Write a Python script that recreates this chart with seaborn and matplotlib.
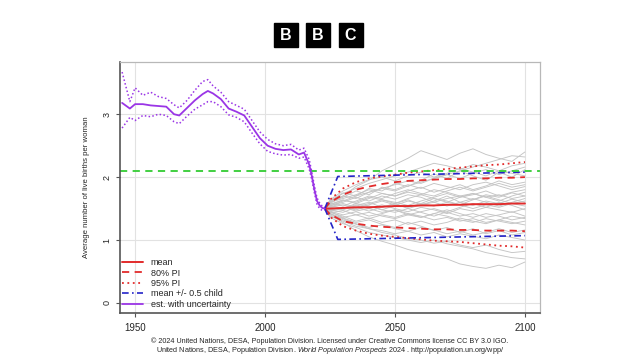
import numpy as np
import pandas as pd
import matplotlib
matplotlib.use("Agg")
import matplotlib.pyplot as plt
from matplotlib.lines import Line2D
from matplotlib.patches import Rectangle
import seaborn as sns

## HISTORIC ESTIMATES (median + uncertainty)
hist_years = [1945, 1948, 1950, 1953, 1956, 1959, 1962, 1965, 1967, 1970, 1973, 1976,
              1978, 1980, 1983, 1986, 1989, 1992, 1995, 1998, 2001, 2004, 2007, 2010,
              2013, 2015, 2017, 2018, 2019, 2020, 2021, 2022, 2023]
hist_mid = [3.18, 3.09, 3.16, 3.16, 3.14, 3.13, 3.12, 3.00, 2.98, 3.10, 3.22, 3.32,
            3.37, 3.33, 3.24, 3.09, 3.04, 2.98, 2.80, 2.62, 2.50, 2.45, 2.43, 2.44,
            2.36, 2.39, 2.20, 2.02, 1.80, 1.62, 1.55, 1.51, 1.50]
hist_hi = [3.67, 3.20, 3.42, 3.30, 3.35, 3.28, 3.25, 3.15, 3.10, 3.22, 3.38, 3.52,
           3.55, 3.45, 3.35, 3.20, 3.14, 3.08, 2.90, 2.72, 2.60, 2.53, 2.50, 2.52,
           2.43, 2.46, 2.28, 2.08, 1.86, 1.67, 1.59, 1.54, 1.52]
hist_lo = [2.78, 2.95, 2.90, 2.98, 2.96, 3.00, 2.98, 2.88, 2.85, 2.97, 3.08, 3.15,
           3.20, 3.20, 3.12, 2.99, 2.95, 2.88, 2.70, 2.53, 2.41, 2.37, 2.35, 2.36,
           2.30, 2.32, 2.13, 1.96, 1.75, 1.57, 1.50, 1.47, 1.48]

## PROJECTIONS
proj_years = [2023, 2025, 2030, 2035, 2040, 2045, 2050, 2055, 2060, 2065, 2070, 2075,
              2080, 2085, 2090, 2095, 2100]
proj_mean = [1.50, 1.50, 1.51, 1.52, 1.52, 1.53, 1.54, 1.54, 1.55, 1.55, 1.56, 1.56,
             1.57, 1.57, 1.57, 1.58, 1.58]
pi80_hi = [1.50, 1.60, 1.72, 1.80, 1.85, 1.89, 1.92, 1.94, 1.95, 1.96, 1.97, 1.97,
           1.98, 1.98, 1.99, 1.99, 2.00]
pi80_lo = [1.50, 1.41, 1.30, 1.26, 1.23, 1.21, 1.20, 1.19, 1.18, 1.17, 1.17, 1.16,
           1.16, 1.15, 1.15, 1.15, 1.14]
pi95_hi = [1.50, 1.64, 1.82, 1.92, 1.98, 2.01, 2.04, 2.07, 2.09, 2.11, 2.13, 2.15,
           2.17, 2.19, 2.20, 2.22, 2.24]
pi95_lo = [1.50, 1.37, 1.22, 1.15, 1.10, 1.07, 1.05, 1.03, 1.01, 0.99, 0.98, 0.97,
           0.95, 0.93, 0.91, 0.90, 0.88]
half_years = [2023, 2028, 2100]
half_hi = [1.50, 2.01, 2.08]
half_lo = [1.50, 1.01, 1.07]
replacement = 2.1

## SAMPLE TRAJECTORIES
trajectories = [
    [1.50, 1.62, 1.75, 1.70, 1.82, 1.78, 1.90, 1.85, 1.95, 2.05, 1.98, 2.10, 2.02, 1.95, 2.08, 2.00, 2.12],
    [1.50, 1.42, 1.35, 1.28, 1.32, 1.25, 1.20, 1.28, 1.22, 1.15, 1.20, 1.12, 1.18, 1.10, 1.15, 1.08, 1.12],
    [1.50, 1.55, 1.60, 1.68, 1.62, 1.70, 1.65, 1.72, 1.68, 1.60, 1.66, 1.70, 1.64, 1.72, 1.68, 1.75, 1.70],
    [1.50, 1.46, 1.40, 1.45, 1.38, 1.42, 1.48, 1.40, 1.45, 1.50, 1.44, 1.38, 1.42, 1.36, 1.40, 1.45, 1.38],
    [1.50, 1.58, 1.70, 1.85, 1.95, 2.10, 2.20, 2.30, 2.42, 2.35, 2.28, 2.38, 2.45, 2.36, 2.30, 2.25, 2.40],
    [1.50, 1.40, 1.28, 1.15, 1.05, 0.98, 0.92, 0.85, 0.80, 0.75, 0.70, 0.62, 0.58, 0.55, 0.60, 0.56, 0.65],
    [1.50, 1.52, 1.48, 1.55, 1.60, 1.52, 1.58, 1.64, 1.56, 1.62, 1.70, 1.60, 1.55, 1.62, 1.58, 1.65, 1.60],
    [1.50, 1.60, 1.68, 1.78, 1.72, 1.84, 1.80, 1.88, 1.82, 1.90, 1.85, 1.80, 1.88, 1.92, 1.86, 1.80, 1.85],
    [1.50, 1.44, 1.38, 1.30, 1.35, 1.28, 1.32, 1.25, 1.30, 1.24, 1.28, 1.35, 1.30, 1.26, 1.32, 1.28, 1.24],
    [1.50, 1.56, 1.64, 1.58, 1.66, 1.74, 1.70, 1.78, 1.84, 1.76, 1.82, 1.88, 1.80, 1.86, 1.94, 1.88, 1.92],
    [1.50, 1.47, 1.52, 1.46, 1.50, 1.56, 1.50, 1.45, 1.52, 1.48, 1.42, 1.50, 1.46, 1.52, 1.48, 1.44, 1.50],
    [1.50, 1.38, 1.30, 1.22, 1.18, 1.12, 1.08, 1.02, 1.00, 0.95, 0.98, 0.92, 0.88, 0.92, 0.85, 0.80, 0.82],
    [1.50, 1.62, 1.74, 1.82, 1.90, 1.96, 2.02, 2.08, 2.15, 2.22, 2.18, 2.12, 2.20, 2.16, 2.10, 2.18, 2.22],
    [1.50, 1.53, 1.58, 1.52, 1.46, 1.52, 1.58, 1.50, 1.44, 1.38, 1.45, 1.52, 1.58, 1.52, 1.60, 1.55, 1.48],
    [1.50, 1.48, 1.44, 1.52, 1.58, 1.64, 1.60, 1.55, 1.62, 1.68, 1.74, 1.68, 1.72, 1.78, 1.70, 1.76, 1.80],
    [1.50, 1.45, 1.36, 1.40, 1.34, 1.40, 1.36, 1.42, 1.38, 1.32, 1.36, 1.30, 1.34, 1.28, 1.32, 1.38, 1.34],
    [1.50, 1.60, 1.66, 1.72, 1.80, 1.74, 1.70, 1.76, 1.72, 1.80, 1.76, 1.70, 1.74, 1.68, 1.72, 1.66, 1.70],
    [1.50, 1.42, 1.32, 1.25, 1.18, 1.15, 1.10, 1.14, 1.08, 1.12, 1.05, 1.10, 1.06, 1.02, 1.08, 1.04, 1.00],
    [1.50, 1.55, 1.50, 1.58, 1.54, 1.48, 1.55, 1.62, 1.58, 1.66, 1.62, 1.56, 1.64, 1.70, 1.64, 1.58, 1.62],
    [1.50, 1.64, 1.78, 1.88, 1.96, 2.00, 1.94, 2.02, 2.08, 2.00, 2.06, 2.14, 2.08, 2.02, 2.10, 2.06, 2.02],
    [1.50, 1.57, 1.63, 1.60, 1.68, 1.64, 1.58, 1.66, 1.72, 1.66, 1.60, 1.68, 1.74, 1.68, 1.62, 1.70, 1.76],
    [1.50, 1.43, 1.47, 1.40, 1.44, 1.38, 1.34, 1.40, 1.36, 1.42, 1.48, 1.42, 1.36, 1.42, 1.38, 1.32, 1.36],
    [1.50, 1.59, 1.54, 1.62, 1.70, 1.66, 1.74, 1.80, 1.74, 1.70, 1.78, 1.84, 1.78, 1.84, 1.90, 1.84, 1.88],
    [1.50, 1.46, 1.50, 1.56, 1.50, 1.44, 1.48, 1.42, 1.36, 1.42, 1.38, 1.32, 1.28, 1.34, 1.30, 1.26, 1.30],
    [1.50, 1.54, 1.62, 1.70, 1.76, 1.82, 1.88, 1.94, 1.90, 1.98, 2.04, 1.98, 2.06, 2.12, 2.04, 2.10, 2.16],
    [1.50, 1.41, 1.34, 1.26, 1.20, 1.24, 1.18, 1.14, 1.20, 1.16, 1.10, 1.14, 1.08, 1.12, 1.18, 1.12, 1.16],
    [1.50, 1.52, 1.56, 1.50, 1.56, 1.62, 1.56, 1.52, 1.58, 1.54, 1.60, 1.56, 1.50, 1.56, 1.52, 1.58, 1.54],
    [1.50, 1.48, 1.52, 1.48, 1.54, 1.48, 1.44, 1.50, 1.56, 1.60, 1.54, 1.60, 1.66, 1.60, 1.54, 1.60, 1.66],
    [1.50, 1.36, 1.26, 1.20, 1.12, 1.08, 1.04, 1.00, 0.96, 1.00, 0.94, 0.90, 0.86, 0.80, 0.76, 0.72, 0.70],
    [1.50, 1.61, 1.70, 1.66, 1.76, 1.82, 1.78, 1.86, 1.92, 1.98, 2.04, 2.10, 2.16, 2.22, 2.28, 2.34, 2.32],
]

RED = "#e22b2b"
BLUE = "#2424c8"
PURPLE = "#9a35e6"
GREEN = "#33cc33"

sns.set_style("white")
plt.rcParams["font.family"] = ["Liberation Sans", "DejaVu Sans"]
plt.rcParams["mathtext.fontset"] = "custom"
plt.rcParams["mathtext.rm"] = "Liberation Sans"
plt.rcParams["mathtext.it"] = "Liberation Sans:italic"

fig = plt.figure(figsize=(6.4, 3.6), dpi=100)
ax = fig.add_axes([120 / 640, 1 - 313 / 360, 420 / 640, 251 / 360])

# grey spaghetti
traj_df = pd.DataFrame(
    [(i, yr, v) for i, tr in enumerate(trajectories) for yr, v in zip(proj_years, tr)],
    columns=["traj", "year", "tfr"],
)
sns.lineplot(data=traj_df, x="year", y="tfr", units="traj", estimator=None,
             color="#c4c4c4", lw=0.65, ax=ax, legend=False)

# prediction intervals
for hi, lo, ls in [(pi95_hi, pi95_lo, (0, (1, 2))), (pi80_hi, pi80_lo, (0, (4, 3)))]:
    sns.lineplot(x=proj_years, y=hi, color=RED, lw=1.3, linestyle=ls, ax=ax)
    sns.lineplot(x=proj_years, y=lo, color=RED, lw=1.3, linestyle=ls, ax=ax)
sns.lineplot(x=proj_years, y=proj_mean, color=RED, lw=1.4, ax=ax)

# mean +/- 0.5 child
for arr in (half_hi, half_lo):
    sns.lineplot(x=half_years, y=arr, color=BLUE, lw=1.2,
                 linestyle=(0, (4, 2, 1, 2)), ax=ax)

ax.axhline(replacement, color=GREEN, lw=1.3, linestyle=(0, (4, 3)))

# historic estimates
sns.lineplot(x=hist_years, y=hist_hi, color=PURPLE, lw=1.1, linestyle=(0, (1, 1.5)), ax=ax)
sns.lineplot(x=hist_years, y=hist_lo, color=PURPLE, lw=1.1, linestyle=(0, (1, 1.5)), ax=ax)
sns.lineplot(x=hist_years, y=hist_mid, color=PURPLE, lw=1.3, ax=ax)

ax.set_xlim(1944.2, 2105.8)
ax.set_ylim(-0.16, 3.83)
ax.set_xticks([1950, 2000, 2050, 2100])
ax.set_yticks([0, 1, 2, 3])
ax.grid(True, color="#e2e2e2", lw=0.8)
ax.set_axisbelow(True)
ax.set_xlabel("")
ax.set_ylabel("Average number of live births per woman", fontsize=5.6, labelpad=9)
ax.tick_params(axis="x", labelsize=7, length=3, direction="out", bottom=True, color="#555555", pad=4)
ax.tick_params(axis="y", labelsize=6.5, length=3, direction="out", left=True, color="#555555", pad=3)
for lab in ax.get_yticklabels():
    lab.set_rotation(90)
    lab.set_va("center")
for side in ("left", "bottom"):
    ax.spines[side].set_color("#555555")
    ax.spines[side].set_linewidth(1.2)
for side in ("top", "right"):
    ax.spines[side].set_color("#b8b8b8")
    ax.spines[side].set_linewidth(0.9)

handles = [
    Line2D([], [], color=RED, lw=1.4),
    Line2D([], [], color=RED, lw=1.3, linestyle=(0, (4, 3))),
    Line2D([], [], color=RED, lw=1.3, linestyle=(0, (1, 2))),
    Line2D([], [], color=BLUE, lw=1.2, linestyle=(0, (4, 2, 1, 2))),
    Line2D([], [], color=PURPLE, lw=1.3),
]
labels = ["mean", "80% PI", "95% PI", "mean +/- 0.5 child", "est. with uncertainty"]
ax.legend(handles, labels, loc="lower left", bbox_to_anchor=(0.0, 0.01), frameon=False,
          fontsize=6.5, handlelength=2.4, handletextpad=0.8, labelspacing=0.15,
          borderpad=0.2, borderaxespad=0)

# BBC logo
for i, letter in enumerate("BBC"):
    x0 = 273.5 + i * 32.5
    fig.add_artist(Rectangle((x0 / 640, 1 - 47 / 360), 24 / 640, 24 / 360,
                             transform=fig.transFigure, color="black"))
    fig.text((x0 + 12) / 640, 1 - 35 / 360, letter, color="white", fontsize=11.5,
             fontweight="bold", ha="center", va="center")

# source footer
fig.text(330 / 640, 1 - 341 / 360,
         "\u00a9 2024 United Nations, DESA, Population Division. Licensed under Creative Commons license CC BY 3.0 IGO.",
         ha="center", va="center", fontsize=5.2)
fig.text(330 / 640, 1 - 351 / 360,
         r"United Nations, DESA, Population Division. $\it{World\ Population\ Prospects\ 2024}$ . http://population.un.org/wpp/",
         ha="center", va="center", fontsize=5.2)

fig.savefig("out.png", dpi=100)
